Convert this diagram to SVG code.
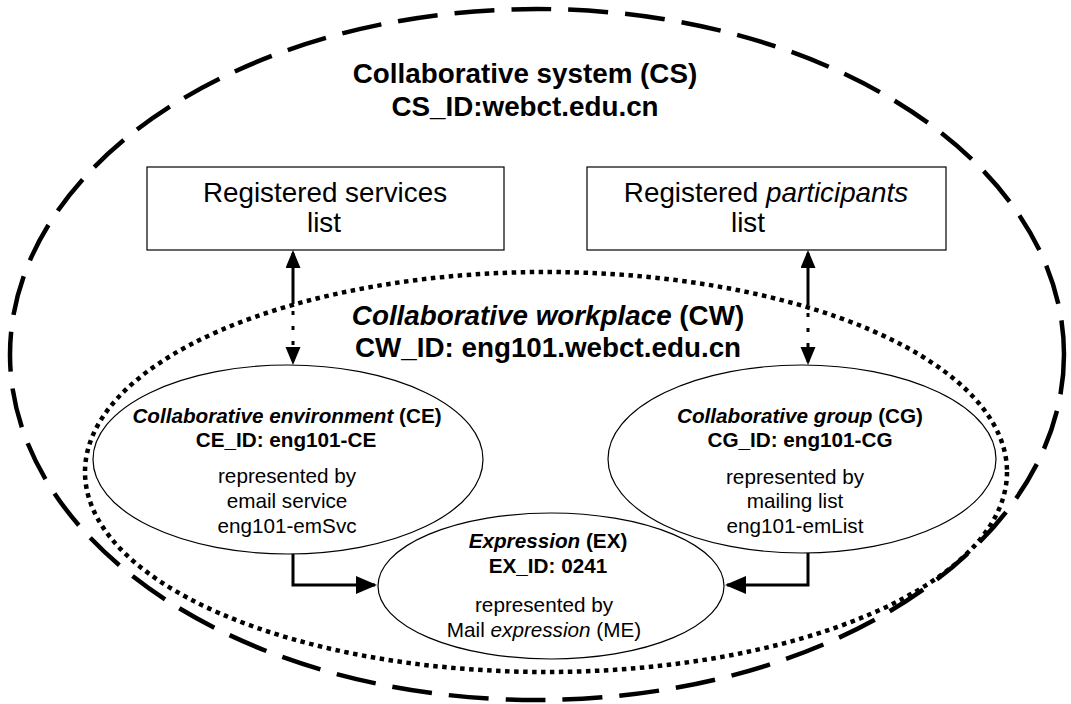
<svg xmlns="http://www.w3.org/2000/svg" width="1071" height="704" viewBox="0 0 1071 704">
  <style>
    text { font-family: "Liberation Sans", Arial, sans-serif; fill: #000; text-anchor: middle; }
    .big { font-size: 27.8px; font-weight: bold; }
    .boxt { font-size: 27.8px; }
    .sb { font-size: 20.7px; font-weight: bold; }
    .sn { font-size: 20.7px; }
    .it { font-style: italic; }
    .shape { fill: #fff; stroke: #000; stroke-width: 1.2; }
    .conn { fill: none; stroke: #000; stroke-width: 3; }
    .dotc { fill: none; stroke: #000; stroke-width: 3; stroke-dasharray: 4 11; }
  </style>
  <defs>
    <marker id="av" markerWidth="18" markerHeight="16" refX="15" refY="7.5" orient="auto" markerUnits="userSpaceOnUse">
      <path d="M0,0 L18,7.5 L0,15 Z" fill="#000"/>
    </marker>
    <marker id="ah" markerWidth="22" markerHeight="18" refX="19" refY="9" orient="auto" markerUnits="userSpaceOnUse">
      <path d="M0,0 L21,9 L0,18 Z" fill="#000"/>
    </marker>
  </defs>
  <rect width="1071" height="704" fill="#fff"/>

  <g id="cs">
    <ellipse cx="537" cy="354.5" rx="527" ry="345.5" fill="none" stroke="#000" stroke-width="4.5" stroke-dasharray="40 17"/>
    <text class="big" x="525" y="83">Collaborative system (CS)</text>
    <text class="big" x="525" y="116">CS_ID:webct.edu.cn</text>
  </g>

  <g id="services">
    <rect class="shape" x="147" y="167" width="357" height="83"/>
    <text class="boxt" x="325" y="202">Registered services</text>
    <text class="boxt" x="324" y="232">list</text>
  </g>

  <g id="participants">
    <rect class="shape" x="587" y="167" width="359" height="83"/>
    <text class="boxt" x="766" y="202">Registered <tspan class="it">participants</tspan></text>
    <text class="boxt" x="748" y="232">list</text>
  </g>

  <g id="cw">
    <ellipse cx="546" cy="472" rx="461" ry="200" fill="none" stroke="#000" stroke-width="4.5" stroke-dasharray="4.5 4.5"/>
    <text class="big" x="548" y="325"><tspan class="it">Collaborative workplace</tspan> (CW)</text>
    <text class="big" x="548" y="357">CW_ID: eng101.webct.edu.cn</text>
  </g>

  <g id="ce">
    <ellipse class="shape" cx="288" cy="459.5" rx="195" ry="94.5"/>
    <text class="sb" x="287" y="423"><tspan class="it">Collaborative environment</tspan> (CE)</text>
    <text class="sb" x="286" y="447">CE_ID: eng101-CE</text>
    <text class="sn" x="287" y="483">represented by</text>
    <text class="sn" x="287" y="508">email service</text>
    <text class="sn" x="287" y="533">eng101-emSvc</text>
  </g>

  <g id="cg">
    <ellipse class="shape" cx="802" cy="459" rx="194" ry="94"/>
    <text class="sb" x="800" y="423"><tspan class="it">Collaborative group</tspan> (CG)</text>
    <text class="sb" x="800" y="447">CG_ID: eng101-CG</text>
    <text class="sn" x="795" y="484">represented by</text>
    <text class="sn" x="795" y="508">mailing list</text>
    <text class="sn" x="795" y="533">eng101-emList</text>
  </g>

  <g id="ex">
    <ellipse class="shape" cx="551" cy="586" rx="173" ry="73"/>
    <text class="sb" x="548" y="548"><tspan class="it">Expression</tspan> (EX)</text>
    <text class="sb" x="548" y="573">EX_ID: 0241</text>
    <text class="sn" x="544" y="612">represented by</text>
    <text class="sn" x="544" y="637">Mail <tspan class="it">expression</tspan> (ME)</text>
  </g>

  <g id="connectors">
    <path class="conn" d="M293,304 V253" marker-end="url(#av)"/>
    <path class="dotc" d="M293,311 V362" marker-end="url(#av)"/>
    <path class="conn" d="M808,305 V253" marker-end="url(#av)"/>
    <path class="dotc" d="M808,313 V362" marker-end="url(#av)"/>
    <path class="conn" d="M293,554 V585 H375" marker-end="url(#ah)"/>
    <path class="conn" d="M808,553 V585 H727" marker-end="url(#ah)"/>
  </g>
</svg>
